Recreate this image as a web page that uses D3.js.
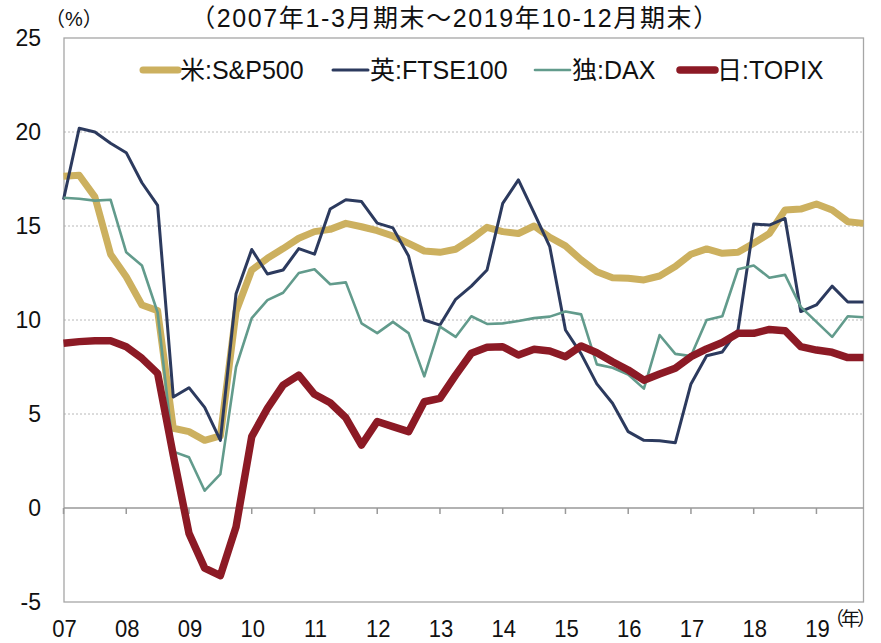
<!DOCTYPE html>
<meta charset="utf-8">
<script src="https://d3js.org/d3.v7.min.js"></script>
<style>
body { margin: 0; background: #fff; }
svg { display: block; font-family: "Liberation Sans", Arial, "Noto Sans CJK JP", sans-serif; }
.frame { fill: none; stroke: #a6a6a6; stroke-width: 1.3; }
.grid line { stroke: #b8b8b8; stroke-width: 1; stroke-dasharray: 2 2; }
.zero { stroke: #999; stroke-width: 1.5; }
.tick { stroke: #999; stroke-width: 1.5; }
.ylab { font-size: 23px; fill: #111; }
.xlab { font-size: 24px; fill: #111; }
.note { font-size: 20px; fill: #111; }
.title { font-size: 25px; fill: #111; letter-spacing: 1.6px; }
.legtext { font-size: 25px; fill: #111; }
.series { fill: none; stroke-linejoin: round; }
</style>
<body></body>
<script>
// quarter ends 2007Q1 .. 2019Q4 (52 points)
const yearLabels = ["07","08","09","10","11","12","13","14","15","16","17","18","19"];
const yTicks = [-5, 0, 5, 10, 15, 20, 25];

const sp500 = [17.65,17.7,16.55,13.5,12.3,10.8,10.5,4.24,4.06,3.6,3.83,10.45,
  12.66,13.28,13.8,14.35,14.7,14.82,15.14,14.96,14.75,14.47,14.08,13.67,
  13.6,13.76,14.3,14.93,14.7,14.6,15.0,14.4,13.94,13.2,12.57,12.25,
  12.22,12.13,12.34,12.84,13.5,13.78,13.55,13.6,14.08,14.6,15.85,15.9,
  16.17,15.85,15.23,15.14];
const ftse100 = [16.4,20.2,20.0,19.4,18.9,17.3,16.1,5.9,6.4,5.35,3.6,11.4,
  13.75,12.45,12.66,13.8,13.5,15.9,16.4,16.3,15.15,14.9,13.4,10.0,
  9.73,11.1,11.8,12.66,16.2,17.45,15.7,13.9,9.47,8.2,6.6,5.57,
  4.06,3.6,3.58,3.47,6.6,8.1,8.3,9.47,15.1,15.05,15.4,10.45,
  10.8,11.8,10.96,10.96];
const dax = [16.5,16.45,16.35,16.4,13.6,12.9,10.4,3.0,2.7,0.92,1.8,7.5,
  10.1,11.06,11.45,12.5,12.7,11.9,12.0,9.82,9.3,9.9,9.3,7.0,
  9.65,9.1,10.2,9.79,9.82,9.95,10.1,10.18,10.45,10.3,7.64,7.46,
  7.1,6.35,9.2,8.2,8.08,10.0,10.2,12.7,12.9,12.25,12.4,10.7,
  9.9,9.1,10.2,10.15];
const topix = [8.76,8.85,8.9,8.9,8.58,7.96,7.16,2.8,-1.35,-3.2,-3.6,-1.0,
  3.8,5.3,6.54,7.07,6.05,5.6,4.8,3.35,4.6,4.33,4.06,5.65,
  5.83,7.07,8.23,8.55,8.58,8.14,8.44,8.35,8.05,8.62,8.26,7.78,
  7.34,6.8,7.13,7.43,8.05,8.46,8.8,9.29,9.29,9.5,9.43,8.58,
  8.4,8.28,8.0,8.0];

const seriesNames = ["米:S&P500", "英:FTSE100", "独:DAX", "日:TOPIX"];
const seriesColors = ["#ccb05f", "#2c3a5e", "#629b8c", "#8c1a25"];
const seriesWidths = [7, 3, 2.6, 7.5];
const seriesValues = [sp500, ftse100, dax, topix];

const W = 881, H = 643;
const plot = {left: 64, right: 863.5, top: 38, bottom: 602};

const svg = d3.select("body").append("svg")
  .attr("width", W).attr("height", H);

const x = d3.scaleLinear().domain([0, sp500.length - 1]).range([plot.left - 0.5, plot.right]);
const y = d3.scaleLinear().domain([-5, 25]).range([plot.bottom, plot.top]);

// dotted grid
svg.append("g").attr("class", "grid")
  .selectAll("line").data(yTicks.filter(d => d > 0 && d < 25)).enter().append("line")
  .attr("x1", plot.left).attr("x2", plot.right)
  .attr("y1", d => y(d)).attr("y2", d => y(d));

// frame
svg.append("rect").attr("class", "frame")
  .attr("x", plot.left).attr("y", plot.top)
  .attr("width", plot.right - plot.left).attr("height", plot.bottom - plot.top);

// zero line + year ticks
svg.append("line").attr("class", "zero")
  .attr("x1", plot.left).attr("x2", plot.right)
  .attr("y1", y(0)).attr("y2", y(0));
svg.append("g").selectAll("line").data(yearLabels).enter().append("line")
  .attr("class", "tick")
  .attr("x1", (d, i) => x(i * 4)).attr("x2", (d, i) => x(i * 4))
  .attr("y1", y(0)).attr("y2", y(0) + 6);

// y labels
svg.append("g").selectAll("text").data(yTicks).enter().append("text")
  .attr("class", "ylab")
  .attr("x", 41).attr("y", d => y(d))
  .attr("dy", "0.36em")
  .attr("text-anchor", "end")
  .text(d => d);

// x labels (slightly condensed like the original)
svg.append("g").selectAll("text").data(yearLabels).enter().append("text")
  .attr("class", "xlab")
  .attr("transform", (d, i) => "translate(" + (x(i * 4) + 1) + ",637) scale(0.92,1)")
  .attr("text-anchor", "middle")
  .text(d => d);

svg.append("text").attr("class", "note").attr("x", 825).attr("y", 626)
  .style("letter-spacing", "-3px").style("font-size", "19px")
  .text("（年）");
svg.append("text").attr("class", "note").attr("x", 45).attr("y", 26).text("（%）");
svg.append("text").attr("class", "title").attr("x", 455).attr("y", 27)
  .attr("text-anchor", "middle").text("（2007年1-3月期末～2019年10-12月期末）");

// lines
const line = d3.line().x((d, i) => x(i)).y(d => y(d));
svg.append("g").selectAll("path").data(seriesValues).enter().append("path")
  .attr("class", "series")
  .attr("stroke", (d, i) => seriesColors[i])
  .attr("stroke-width", (d, i) => seriesWidths[i])
  .attr("d", line);

// legend
const legX = [143, 333, 535, 680];
const leg = svg.append("g").selectAll("g").data(seriesNames).enter().append("g")
  .attr("transform", (d, i) => "translate(" + legX[i] + ",70)");
leg.append("line")
  .attr("x1", 0).attr("x2", 35).attr("y1", 0).attr("y2", 0)
  .attr("stroke", (d, i) => seriesColors[i])
  .attr("stroke-width", (d, i) => seriesWidths[i])
  .attr("stroke-linecap", "round");
leg.append("text").attr("class", "legtext")
  .attr("x", 37).attr("y", 0).attr("dy", "0.36em")
  .text(d => d);
</script>
